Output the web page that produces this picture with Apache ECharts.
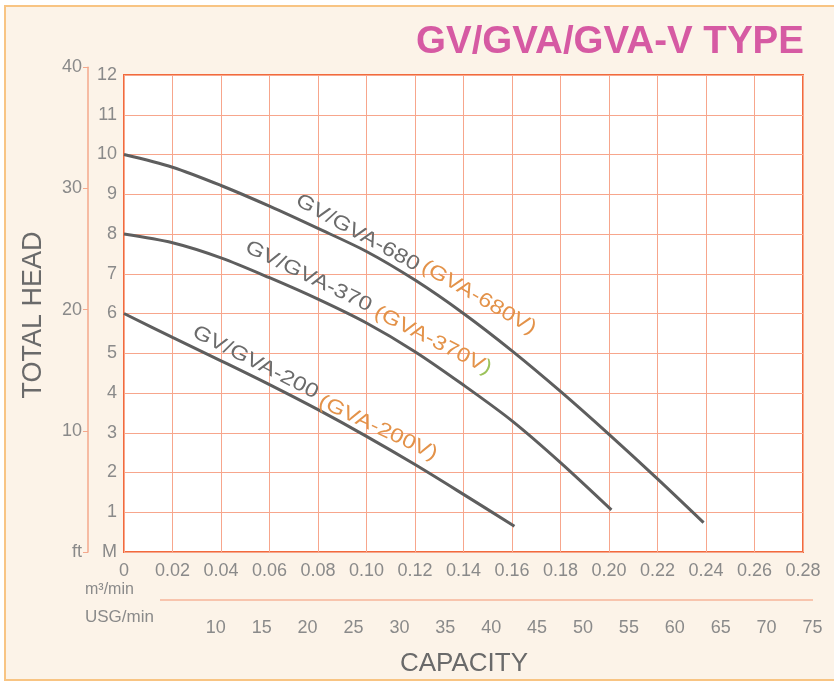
<!DOCTYPE html>
<html>
<head>
<meta charset="utf-8">
<title>GV/GVA/GVA-V TYPE</title>
<script src="https://cdn.jsdelivr.net/npm/echarts@6/dist/echarts.min.js"></script>
<style>
html,body{margin:0;padding:0;background:#fff;}
#main{width:834px;height:682px;}
</style>
</head>
<body>
<div id="main"></div>
<script>
// 曲线数据 (m3/min -> m)
var flow680 = [0, 0.02, 0.04, 0.06, 0.08, 0.10, 0.12, 0.14, 0.16, 0.18, 0.20, 0.22, 0.239];
var head680 = [10.0, 9.68, 9.22, 8.70, 8.14, 7.56, 6.84, 6.00, 5.06, 4.04, 2.96, 1.84, 0.74];
var flow370 = [0, 0.02, 0.04, 0.06, 0.08, 0.10, 0.12, 0.14, 0.16, 0.18, 0.201];
var head370 = [8.0, 7.78, 7.40, 6.90, 6.36, 5.76, 5.04, 4.20, 3.30, 2.25, 1.06];
var flow200 = [0, 0.02, 0.04, 0.06, 0.08, 0.10, 0.12, 0.14, 0.161];
var head200 = [6.0, 5.40, 4.81, 4.21, 3.58, 2.91, 2.20, 1.45, 0.65];

// 曲线上的文字 [x, y] 为数据坐标
var curveLabels = [
	{text: 'GV/GVA-680', at: [0.0963, 8.03], angle: 29, color: '#6b6b6b'},
	{text: '(GVA-680V)', at: [0.1463, 6.40], angle: 30, color: '#e39249'},
	{text: 'GV/GVA-370', at: [0.0761, 6.93], angle: 26, color: '#6b6b6b'},
	{text: '(GVA-370V)', at: [0.1274, 5.32], angle: 27, color: '#e39249'},
	{text: 'GV/GVA-200', at: [0.0542, 4.77], angle: 27, color: '#6b6b6b'},
	{text: '(GVA-200V)', at: [0.1047, 3.12], angle: 25, color: '#e39249'}
];

var M3_TO_USG = 264.17;
var M_TO_FT = 3.28084;
var FONT = '"Liberation Sans", Arial, sans-serif';
var gray = '#8a8a8a';

function pairs(xs, ys){
	var out = [];
	for (var i = 0; i < xs.length; i++) out.push([xs[i], ys[i]]);
	return out;
}

var myChart = echarts.init(document.getElementById('main'));

function curve(name, xs, ys){
	return {
		name: name,
		type: 'line',
		xAxisIndex: 0,
		yAxisIndex: 0,
		data: pairs(xs, ys),
		smooth: 0.3,
		symbol: 'none',
		lineStyle: {color: '#5e5e5e', width: 3},
		z: 5
	};
}

var plotLeft = 124, plotTop = 75, plotW = 679, plotH = 477;
// 英制轴按换算放长
var usgW = plotW * (75 / M3_TO_USG) / 0.28;
var ftH = plotH * (40 / M_TO_FT) / 12;

var option = {
	backgroundColor: '#fff',
	animation: false,
	grid: [
		{left: plotLeft, top: plotTop, width: plotW, height: plotH, show: true,
			backgroundColor: '#fff', borderColor: '#f26a3c', borderWidth: 2},
		{left: plotLeft, top: 600, width: usgW, height: 1},
		{left: 88, top: plotTop + plotH - ftH, width: 1, height: ftH}
	],
	xAxis: [
		{type: 'value', gridIndex: 0, min: 0, max: 0.28, interval: 0.02,
			axisLine: {show: false}, axisTick: {show: false},
			axisLabel: {color: gray, fontSize: 18, fontFamily: FONT, margin: 10,
				formatter: function(v){ return v === 0 ? '0' : v.toFixed(2); }},
			splitLine: {show: true, lineStyle: {color: '#f7a68c', width: 1}}},
		{type: 'value', gridIndex: 1, min: 0, max: 75, interval: 5,
			axisLine: {show: false}, axisTick: {show: false}, splitLine: {show: false},
			axisLabel: {color: gray, fontSize: 18, fontFamily: FONT, margin: 18,
				formatter: function(v){ return v < 10 ? '' : String(v); }}},
		{type: 'value', gridIndex: 2, show: false}
	],
	yAxis: [
		{type: 'value', gridIndex: 0, min: 0, max: 12, interval: 1,
			axisLine: {show: false}, axisTick: {show: false},
			axisLabel: {color: gray, fontSize: 18, fontFamily: FONT, margin: 7,
				formatter: function(v){ return v === 0 ? 'M' : String(v); }},
			splitLine: {show: true, lineStyle: {color: '#f7a68c', width: 1}}},
		{type: 'value', gridIndex: 1, show: false},
		{type: 'value', gridIndex: 2, min: 0, max: 40, interval: 10, position: 'left',
			axisLine: {show: true, lineStyle: {color: '#f4a88c', width: 1.5}},
			axisTick: {show: true, length: 5, lineStyle: {color: '#f4a88c'}},
			axisLabel: {color: gray, fontSize: 18, fontFamily: FONT, margin: 6,
				formatter: function(v){ return v === 0 ? 'ft' : String(v); }},
			splitLine: {show: false}}
	],
	series: [
		curve('GV/GVA-680', flow680, head680),
		curve('GV/GVA-370', flow370, head370),
		curve('GV/GVA-200', flow200, head200)
	],
	graphic: [
		{type: 'rect', shape: {x: 5, y: 6, width: 840, height: 674}, z: -10,
			style: {fill: '#fcf3e8', stroke: '#f8c483', lineWidth: 2}},
		{type: 'text', left: 416, top: 23, z: 10,
			style: {text: 'GV/GVA/GVA-V TYPE', fill: '#d65aa3', font: 'bold 38.5px ' + FONT}},
		{type: 'text', x: 34, y: 315, rotation: Math.PI / 2, z: 10,
			style: {text: 'TOTAL HEAD', fill: '#6a6a6a', font: '27px ' + FONT, align: 'center', verticalAlign: 'middle'}},
		{type: 'text', x: 464, y: 664, z: 10,
			style: {text: 'CAPACITY', fill: '#6a6a6a', font: '26px ' + FONT, align: 'center', verticalAlign: 'middle'}},
		{type: 'text', x: 85, y: 590, z: 10,
			style: {text: 'm³/min', fill: gray, font: '16px ' + FONT, verticalAlign: 'middle'}},
		{type: 'text', x: 85, y: 617, z: 10,
			style: {text: 'USG/min', fill: gray, font: '17px ' + FONT, verticalAlign: 'middle'}},
		{type: 'line', shape: {x1: 160, y1: 600, x2: 813, y2: 600}, z: 10,
			style: {stroke: '#f7b59a', lineWidth: 1.5}}
	]
};
myChart.setOption(option);

// 曲线标注：数据坐标换算成像素
var extra = curveLabels.map(function(l){
	var p = myChart.convertToPixel({gridIndex: 0}, l.at);
	var style = {text: l.text, fill: l.color, font: '20px ' + FONT, align: 'center', verticalAlign: 'middle'};
	if (l.text === '(GVA-370V)') {
		style.text = '{a|(GVA-370V}{b|)}';
		style.rich = {a: {fill: l.color, font: '20px ' + FONT}, b: {fill: '#9cc25a', font: '20px ' + FONT}};
	}
	return {type: 'text', x: p[0], y: p[1], rotation: -l.angle * Math.PI / 180, scaleX: 1.2, z: 12, style: style};
});
myChart.setOption({graphic: option.graphic.concat(extra)});
</script>
</body>
</html>
